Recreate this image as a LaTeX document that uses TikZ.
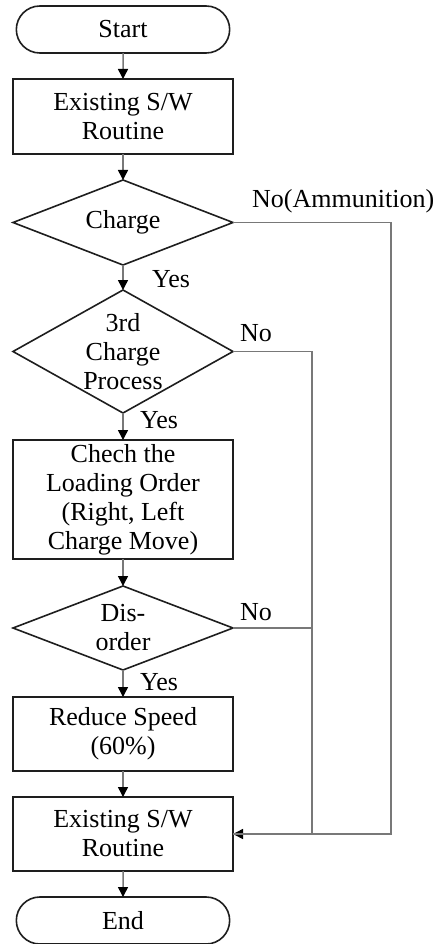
\documentclass[tikz,border=0pt]{standalone}
\usepackage{fontspec}
\setmainfont{Liberation Serif}
\usepackage{tikz}
\usetikzlibrary{shapes.geometric,shapes.misc,arrows.meta,positioning,calc}
\definecolor{cLine}{RGB}{120,120,120}
\definecolor{cEdge}{RGB}{30,30,30}
\tikzset{
  basebox/.style={draw=cEdge,line width=1.6pt,align=center,outer sep=0pt,
                  font=\fontsize{26pt}{29pt}\selectfont,minimum width=220pt},
  termnode/.style={basebox,rounded rectangle,minimum height=47pt},
  procnode/.style={basebox,rectangle,minimum height=75pt,inner sep=2pt},
  decnode/.style={basebox,diamond,inner sep=-40pt},
  lbl/.style={font=\fontsize{26pt}{29pt}\selectfont,inner sep=0pt},
  arr/.style={-{Triangle[color=black,length=10pt,width=10pt]},line width=1.5pt,color=cLine},
  lin/.style={line width=1.5pt,color=cLine}
}
\begin{document}
\begin{tikzpicture}[x=1pt,y=1pt,node distance=26pt]
  \useasboundingbox (0,0) rectangle (444,-944);
  \node[termnode] (start) at (123,-29.5) {Start};
  \node[procnode,below=of start] (exist)
      {Existing S/W\\Routine};
  \node[decnode,minimum height=85pt,below=of exist] (charge) {Charge};
  \node[decnode,minimum height=123pt,below=25pt of charge] (third)
      {3rd\\Charge\\Process};
  \node[procnode,minimum height=119pt,below=27pt of third] (check)
      {Chech the\\Loading Order\\(Right, Left\\Charge Move)};
  \node[decnode,minimum height=84pt,below=27pt of check] (disord)
      {Dis-\\order};
  \node[procnode,minimum height=74pt,below=27pt of disord] (reduce)
      {Reduce Speed\\(60\%)};
  \node[procnode,minimum height=74pt,below=of reduce] (exist2)
      {Existing S/W\\Routine};
  \node[termnode,below=of exist2] (finish) {End};

  \draw[arr] (start)--(exist);
  \draw[arr] (exist)--(charge);
  \draw[arr] (charge)--(third);
  \draw[arr] (third)--(check);
  \draw[arr] (check)--(disord);
  \draw[arr] (disord)--(reduce);
  \draw[arr] (reduce)--(exist2);
  \draw[arr] (exist2)--(finish);

  \node[lbl,anchor=base west] (yes1) at ($(charge.south)+(29,-22)$) {Yes};
  \node[lbl,anchor=base west] (yes2) at ($(third.south)+(17,-15)$) {Yes};
  \node[lbl,anchor=base west] (yes3) at ($(disord.south)+(17,-20)$) {Yes};
  \node[lbl,anchor=base west] (no1) at ($(charge.east)+(19,15)$) {No(Ammunition)};
  \node[lbl,anchor=base west] (no2) at ($(third.east)+(7,10)$) {No};
  \node[lbl,anchor=base west] (no3) at ($(disord.east)+(7,8)$) {No};

  \draw[arr] (charge.east)--++(158,0) |- (exist2.east);
  \draw[lin] (third.east)--++(79,0) |- (exist2.east);
  \draw[lin] (disord.east)--++(79,0);
\end{tikzpicture}
\end{document}
